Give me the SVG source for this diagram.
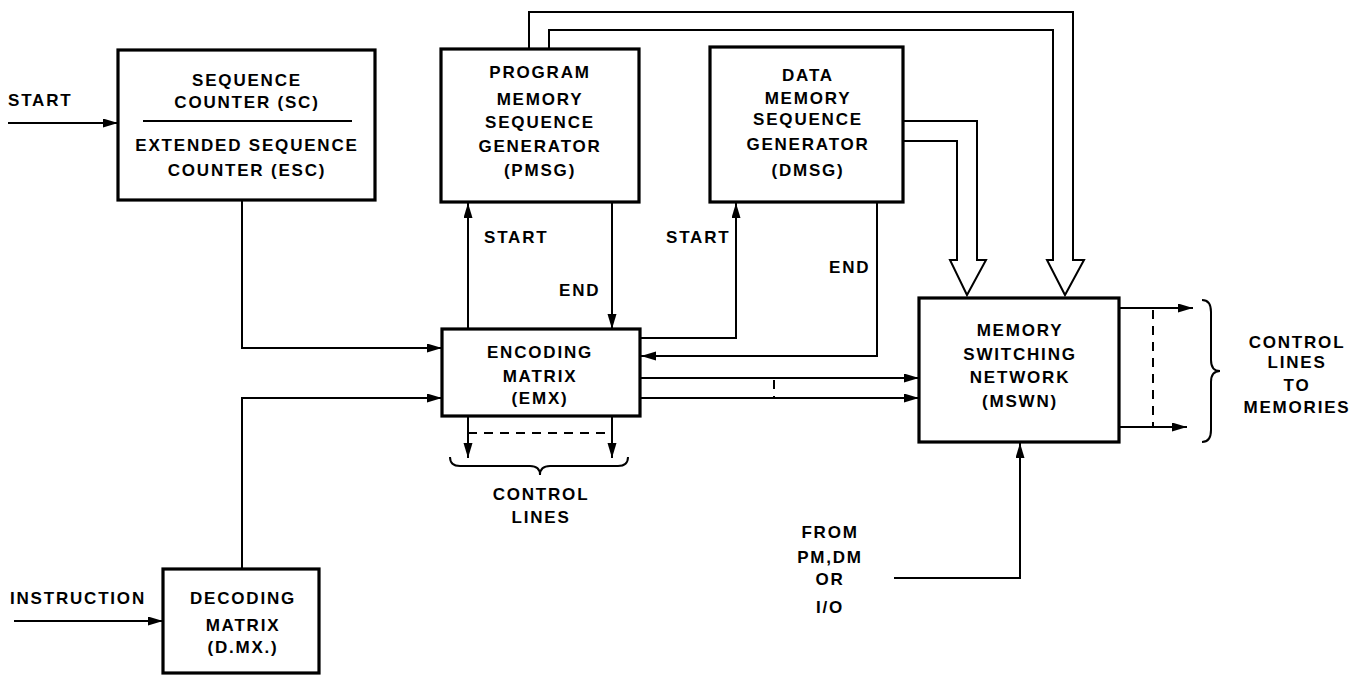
<svg xmlns="http://www.w3.org/2000/svg" width="1356" height="677" viewBox="0 0 1356 677">
<defs>
<marker id="arr" markerUnits="userSpaceOnUse" markerWidth="16" markerHeight="10" refX="15" refY="4.5" orient="auto">
<path d="M0,0 L15,4.5 L0,9 z" fill="#000"/>
</marker>
<style>
.box{fill:#fff;stroke:#000;stroke-width:3.2}
.ln{fill:none;stroke:#000;stroke-width:2}
.ar{fill:none;stroke:#000;stroke-width:2;marker-end:url(#arr)}
.dash{fill:none;stroke:#000;stroke-width:2;stroke-dasharray:9,7}
text{font-family:"Liberation Sans",Arial,sans-serif;font-weight:bold;font-size:17px;letter-spacing:1.8px;fill:#000}
.c{text-anchor:middle}
</style>
</defs>
<rect width="1356" height="677" fill="#fff"/>

<g id="connectors">
<path class="ar" d="M8,123 H118"/>
<path class="ar" d="M242,200 V348 H442"/>
<path class="ar" d="M242,569 V398 H442"/>
<path class="ar" d="M14,621 H163"/>
<path class="ar" d="M468,329 V203"/>
<path class="ar" d="M612,203 V329"/>
<path class="ar" d="M640,338 H736 V203"/>
<path class="ar" d="M877,202 V356 H641"/>
<path class="ar" d="M640,378 H919"/>
<path class="ar" d="M640,398 H919"/>
<path class="dash" d="M774,380 V398"/>
<path class="ar" d="M468,416 V458"/>
<path class="ar" d="M612,416 V458"/>
<path class="dash" d="M468,433 H612"/>
<path class="ln" d="M450,457 Q450,466 460,466 H530 Q540,466 540,475 Q540,466 550,466 H618 Q628,466 628,457"/>
<path class="ar" d="M1119,308 H1193"/>
<path class="ar" d="M1119,427 H1187"/>
<path class="dash" d="M1153,310 V427"/>
<path class="ln" d="M1202,300 Q1211,300 1211,312 V360 Q1211,371 1220,371 Q1211,371 1211,382 V430 Q1211,442 1202,442"/>
<path class="ar" d="M894,578 H1020 V443"/>
<path class="ln" d="M549,49 V30 H1053 V260 H1047 L1065,295 L1084,260 H1073 V12 H529 V49"/>
<path class="ln" d="M903,141 H957 V260 H950 L967,295 L986,260 H977 V121 H903"/>
</g>

<g id="sc">
<rect class="box" x="118" y="50" width="257" height="150"/>
<line x1="143" y1="121" x2="352" y2="121" stroke="#000" stroke-width="2"/>
<text class="c" x="247" y="86">SEQUENCE</text>
<text class="c" x="247" y="108">COUNTER (SC)</text>
<text class="c" x="247" y="151">EXTENDED SEQUENCE</text>
<text class="c" x="247" y="176">COUNTER (ESC)</text>
</g>

<g id="pmsg">
<rect class="box" x="441" y="49" width="198" height="153"/>
<text class="c" x="540" y="78">PROGRAM</text>
<text class="c" x="540" y="105">MEMORY</text>
<text class="c" x="540" y="128">SEQUENCE</text>
<text class="c" x="540" y="152">GENERATOR</text>
<text class="c" x="540" y="176">(PMSG)</text>
</g>

<g id="dmsg">
<rect class="box" x="710" y="47" width="193" height="155"/>
<text class="c" x="808" y="81">DATA</text>
<text class="c" x="808" y="104">MEMORY</text>
<text class="c" x="808" y="125">SEQUENCE</text>
<text class="c" x="808" y="150">GENERATOR</text>
<text class="c" x="808" y="176">(DMSG)</text>
</g>

<g id="emx">
<rect class="box" x="442" y="329" width="198" height="87"/>
<text class="c" x="540" y="358">ENCODING</text>
<text class="c" x="540" y="382">MATRIX</text>
<text class="c" x="540" y="404">(EMX)</text>
</g>

<g id="mswn">
<rect class="box" x="919" y="298" width="200" height="144"/>
<text class="c" x="1020" y="336">MEMORY</text>
<text class="c" x="1020" y="360">SWITCHING</text>
<text class="c" x="1020" y="383">NETWORK</text>
<text class="c" x="1020" y="407">(MSWN)</text>
</g>

<g id="dmx">
<rect class="box" x="163" y="569" width="156" height="104"/>
<text class="c" x="243" y="604">DECODING</text>
<text class="c" x="243" y="631">MATRIX</text>
<text class="c" x="243" y="653">(D.MX.)</text>
</g>

<g id="labels">
<text x="8" y="106">START</text>
<text x="10" y="604">INSTRUCTION</text>
<text x="484" y="243">START</text>
<text x="559" y="296">END</text>
<text x="666" y="243">START</text>
<text x="829" y="273">END</text>
<text class="c" x="541" y="500">CONTROL</text>
<text class="c" x="541" y="523">LINES</text>
<text class="c" x="1297" y="348">CONTROL</text>
<text class="c" x="1297" y="368">LINES</text>
<text class="c" x="1297" y="391">TO</text>
<text class="c" x="1297" y="413">MEMORIES</text>
<text class="c" x="830" y="538">FROM</text>
<text class="c" x="830" y="563">PM,DM</text>
<text class="c" x="830" y="585">OR</text>
<text class="c" x="830" y="613">I/O</text>
</g>
</svg>
